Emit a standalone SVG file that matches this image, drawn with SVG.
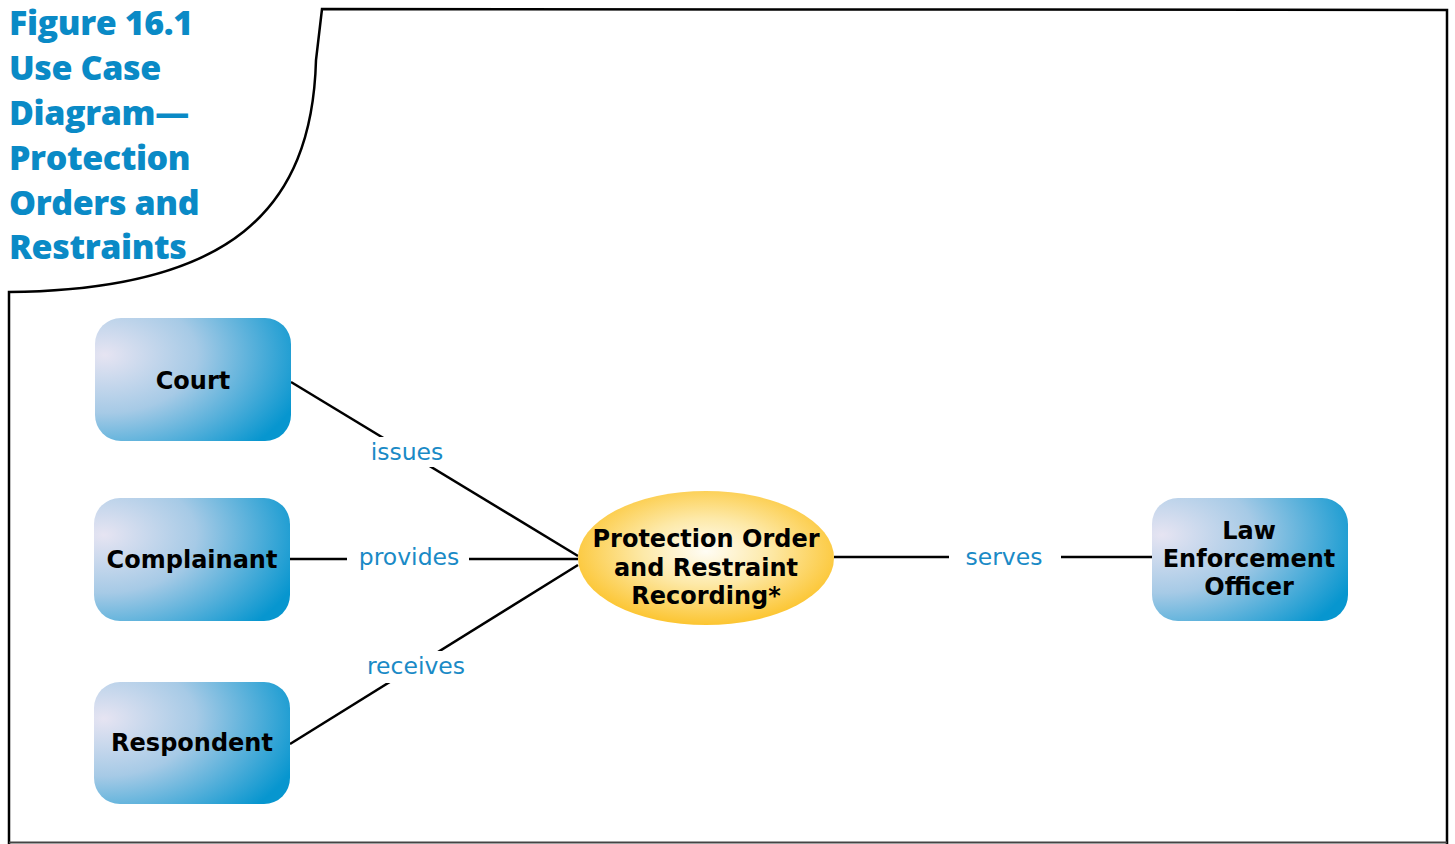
<svg xmlns="http://www.w3.org/2000/svg" width="1455" height="844" viewBox="0 0 1455 844">
  <defs>
    <radialGradient id="boxGrad" cx="0.05" cy="0.3" r="1.05" fx="0.05" fy="0.3">
      <stop offset="0" stop-color="#e6e4f2"/>
      <stop offset="0.45" stop-color="#a6cae6"/>
      <stop offset="1" stop-color="#0796cf"/>
    </radialGradient>
    <radialGradient id="ellGrad" cx="0.5" cy="0.45" r="0.55">
      <stop offset="0" stop-color="#fffdf5"/>
      <stop offset="0.45" stop-color="#fde9a8"/>
      <stop offset="1" stop-color="#fcc531"/>
    </radialGradient>
    <style>
      .title { font-family: "Open Sans", "Liberation Sans", sans-serif; font-weight: 800; font-size: 34px; letter-spacing: -0.4px; fill: #0a8ac6; }
      .frame { fill: none; stroke: #000; stroke-width: 2.5; }
      .box { fill: url(#boxGrad); }
      .ntext { font-family: "DejaVu Sans", sans-serif; font-weight: bold; font-size: 24px; fill: #000; text-anchor: middle; }
      .conn { stroke: #000; stroke-width: 2.5; fill: none; }
      .lbl { font-family: "DejaVu Sans", sans-serif; font-size: 23.5px; fill: #1a8ac6; text-anchor: middle; }
      .lblbg { fill: #fff; }
    </style>
  </defs>
  <rect width="1455" height="844" fill="#fff"/>

  <g id="frame">
    <path class="frame" d="M 9,844 L 9,292 C 230,290 312,210 316,60 L 322,9 L 1447,10 L 1447,844"/>
    <line x1="9" y1="842.5" x2="1447" y2="842.5" stroke="#444" stroke-width="2"/>
  </g>

  <g id="title">
    <text class="title" x="9" y="35">Figure 16.1</text>
    <text class="title" x="9" y="80">Use Case</text>
    <text class="title" x="9" y="125">Diagram—</text>
    <text class="title" x="9" y="170">Protection</text>
    <text class="title" x="9" y="215">Orders and</text>
    <text class="title" x="9" y="259">Restraints</text>
  </g>

  <g id="connectors">
    <line class="conn" x1="291" y1="382" x2="578" y2="556"/>
    <line class="conn" x1="290" y1="559" x2="578" y2="559"/>
    <line class="conn" x1="290" y1="744" x2="578" y2="565"/>
    <line class="conn" x1="834" y1="557" x2="1152" y2="557"/>
    <rect class="lblbg" x="366" y="437" width="82" height="30"/>
    <text class="lbl" x="407" y="460">issues</text>
    <rect class="lblbg" x="347" y="543" width="122" height="30"/>
    <text class="lbl" x="409" y="565">provides</text>
    <rect class="lblbg" x="362" y="651" width="108" height="32"/>
    <text class="lbl" x="416" y="674">receives</text>
    <rect class="lblbg" x="949" y="542" width="112" height="30"/>
    <text class="lbl" x="1004" y="565">serves</text>
  </g>

  <g id="court">
    <rect class="box" x="95" y="318" width="196" height="123" rx="26"/>
    <text class="ntext" x="193" y="389">Court</text>
  </g>
  <g id="complainant">
    <rect class="box" x="94" y="498" width="196" height="123" rx="26"/>
    <text class="ntext" x="192" y="568">Complainant</text>
  </g>
  <g id="respondent">
    <rect class="box" x="94" y="682" width="196" height="122" rx="26"/>
    <text class="ntext" x="192" y="751">Respondent</text>
  </g>
  <g id="law-enforcement-officer">
    <rect class="box" x="1152" y="498" width="196" height="123" rx="26"/>
    <text class="ntext" x="1249" y="539">Law</text>
    <text class="ntext" x="1249" y="567">Enforcement</text>
    <text class="ntext" x="1249" y="595">Officer</text>
  </g>
  <g id="use-case">
    <ellipse cx="706" cy="558" rx="128" ry="67" fill="url(#ellGrad)"/>
    <text class="ntext" x="706" y="547">Protection Order</text>
    <text class="ntext" x="706" y="576">and Restraint</text>
    <text class="ntext" x="706" y="604">Recording*</text>
  </g>
</svg>
